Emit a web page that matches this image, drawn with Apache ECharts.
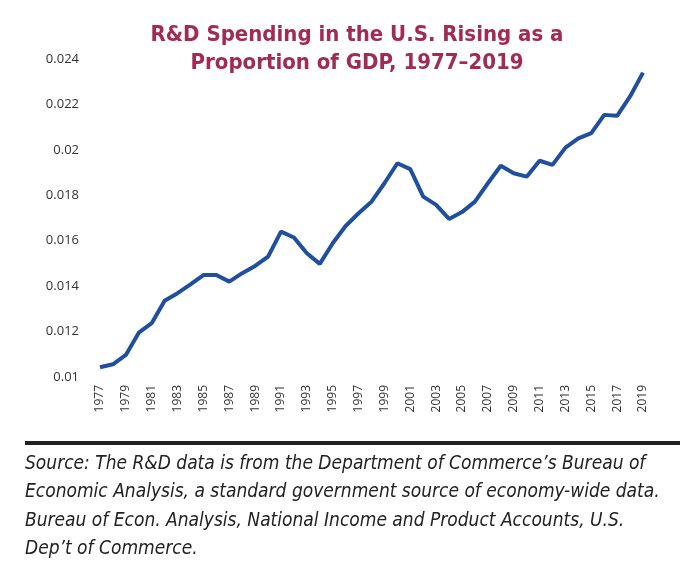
<!DOCTYPE html>
<html>
<head>
    <title>R&amp;D Spending as a Proportion of GDP</title>
    <script src="https://cdn.jsdelivr.net/npm/echarts@6.0.0/dist/echarts.min.js"></script>
    <style>
        body { margin: 0; background: #fff; }
    </style>
</head>
<body>
    <div id="chart" style="width: 700px; height: 574px;"></div>
    <script>
        // years 1977..2019, values
        var years = [];
        for (var y = 1977; y <= 2019; y++) years.push(String(y));

        var rdShare = [
            0.01043, 0.01056, 0.01097, 0.01195, 0.01237, 0.01336, 0.01369, 0.01408,
            0.01449, 0.01449, 0.01420, 0.01457, 0.01489, 0.01530, 0.01640, 0.01614,
            0.01545, 0.01498, 0.01589, 0.01665, 0.01721, 0.01772, 0.01853, 0.01941,
            0.01915, 0.01794, 0.01758, 0.01696, 0.01726, 0.01772, 0.01853, 0.01930,
            0.01897, 0.01882, 0.01952, 0.01934, 0.02010, 0.02051, 0.02074, 0.02154,
            0.02150, 0.02235, 0.02340
        ];

        var titleText = 'R&D Spending in the U.S. Rising as a\nProportion of GDP, 1977\u20132019';
        var sourceLines = [
            'Source: The R&D data is from the Department of Commerce\u2019s Bureau of',
            'Economic Analysis, a standard government source of economy-wide data.',
            'Bureau of Econ. Analysis, National Income and Product Accounts, U.S.',
            'Dep\u2019t of Commerce.'
        ];

        var chart = echarts.init(document.querySelector('#chart'));

        var option = {
            backgroundColor: '#fff',
            title: {
                text: titleText,
                left: 352,
                top: 16,
                textAlign: 'center',
                textStyle: {
                    fontFamily: '"Liberation Sans Narrow", "DejaVu Sans Condensed", sans-serif',
                    fontWeight: 'bold',
                    fontSize: 22,
                    lineHeight: 28,
                    color: '#a32a52'
                }
            },
            grid: { left: 100, right: 57, top: 59, bottom: 197 },
            xAxis: {
                type: 'category',
                data: years,
                boundaryGap: false,
                axisLine: { show: false },
                axisTick: { show: false },
                axisLabel: {
                    interval: 1,
                    rotate: 90,
                    margin: 8,
                    fontFamily: '"Open Sans", sans-serif',
                    fontSize: 12,
                    color: '#333'
                }
            },
            yAxis: {
                type: 'value',
                min: 0.01,
                max: 0.024,
                interval: 0.002,
                axisLine: { show: false },
                axisTick: { show: false },
                splitLine: { show: false },
                axisLabel: {
                    margin: 21,
                    fontFamily: '"Open Sans", sans-serif',
                    fontSize: 13,
                    color: '#333',
                    formatter: function (v) { return String(+v.toFixed(3)); }
                }
            },
            series: [{
                type: 'line',
                data: rdShare,
                symbol: 'none',
                smooth: false,
                lineStyle: { color: '#1f4f9e', width: 4 }
            }],
            graphic: [
                {
                    type: 'rect',
                    shape: { x: 25, y: 441, width: 655, height: 4 },
                    style: { fill: '#222' }
                },
                {
                    type: 'text',
                    left: 25,
                    top: 447,
                    style: {
                        text: sourceLines.join('\n'),
                        font: 'italic 19px "Liberation Sans Narrow", "DejaVu Sans Condensed", sans-serif',
                        lineHeight: 28.5,
                        fill: '#222'
                    }
                }
            ]
        };
        chart.setOption(option);
    </script>
</body>
</html>
